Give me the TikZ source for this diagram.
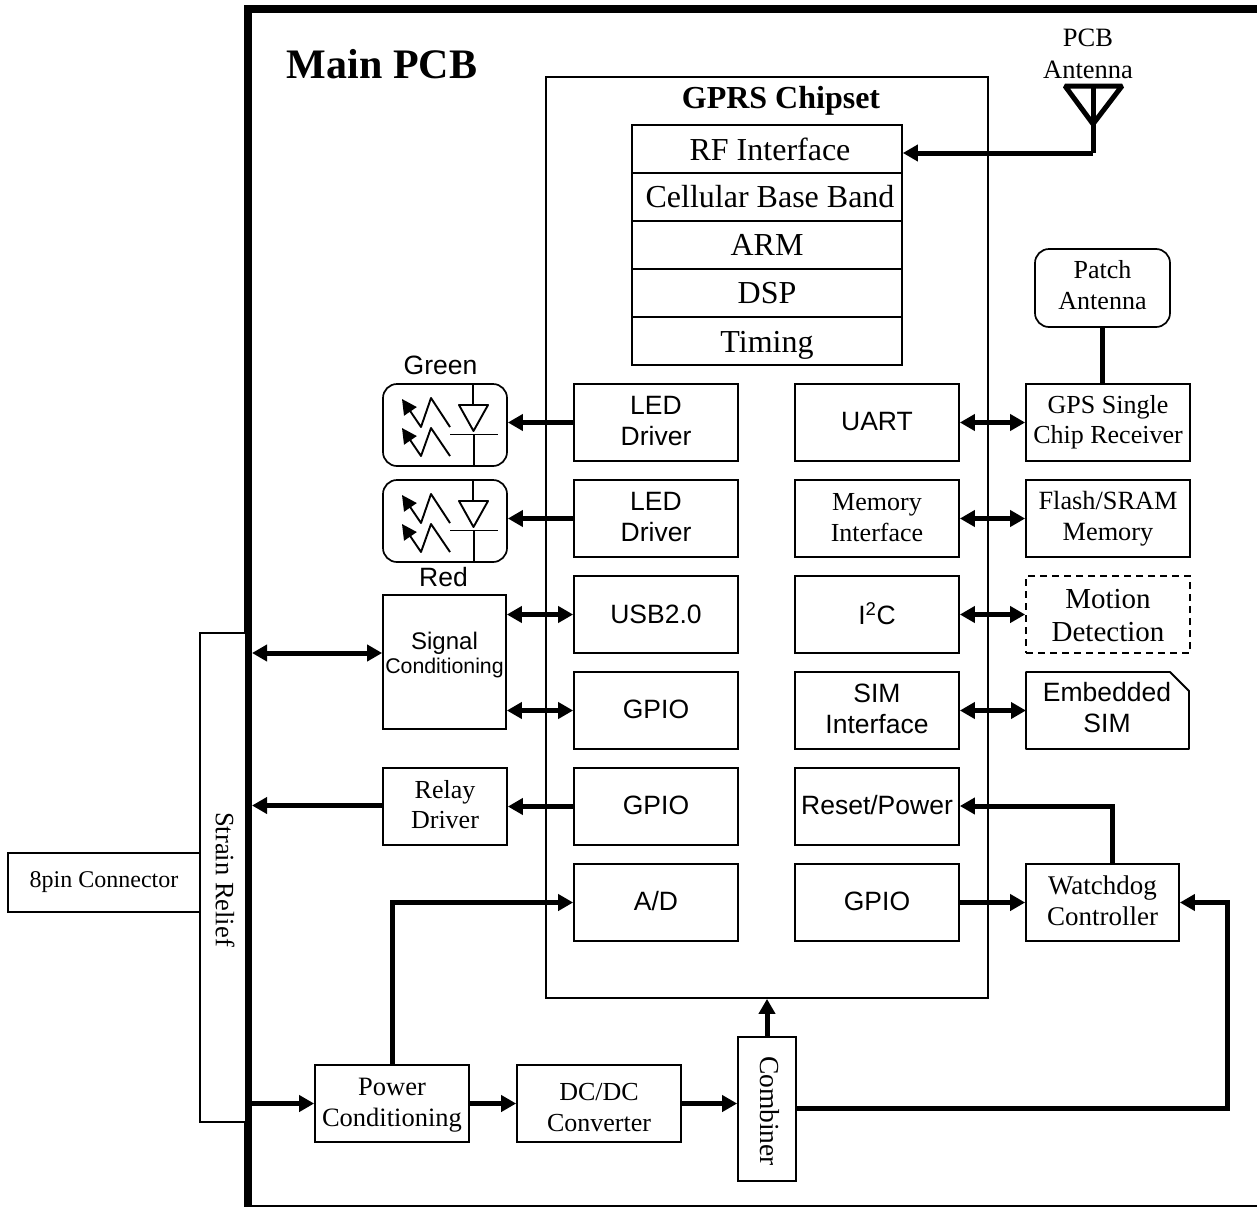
\documentclass[tikz,border=0pt]{standalone}
\usepackage{fontspec}
\setmainfont{Liberation Serif}
\newfontfamily\arialf{Liberation Sans}
\usetikzlibrary{arrows.meta,calc}
\newcommand{\fsz}[1]{\fontsize{#1pt}{1.16\dimexpr#1pt\relax}\selectfont}
\tikzset{
  x=1pt,y=-1pt,
  blk/.style={draw=black,line width=1.7pt,fill=white,inner sep=0pt},
  stk/.style={blk,minimum width=270pt,minimum height=48pt},
  wire/.style={line width=5pt,line cap=butt},
  one/.style={wire,-{Triangle[length=15pt,width=16pt]}},
  two/.style={wire,{Triangle[length=15pt,width=16pt]}-{Triangle[length=15pt,width=16pt]}},
  chip/.style={blk,minimum width=164pt,minimum height=77pt},
  lbl/.style={inner sep=0pt,align=center},
  ar/.style={font=\arialf\fsz{#1}},
  se/.style={font=\fsz{#1}},
  thin line/.style={line width=1.9pt,line join=round}
}
% #1 box style, #2 name, #3 centre, #4 text options, #5 text
\newcommand{\bx}[5]{%
  \node[#1] (#2) at (#3) {};
  \node[lbl,#4] (#2t) at (#2) {#5};}
\newcommand{\ledsym}[1]{%
  \begin{scope}[shift={(0,#1)},thin line]
    \draw (473,384) -- (473,405);
    \draw (459,405) -- (488,405) -- (473.5,431) -- cycle;
    \draw (450,434.5) -- (498,434.5);
    \draw (474,434.5) -- (474,466);
    \draw[-{Triangle[length=15pt,width=15pt]}] (450,427) -- (431,398) -- (421,427) -- (402,399);
    \draw[-{Triangle[length=15pt,width=15pt]}] (450,456) -- (431,428) -- (421,456) -- (402,428);
  \end{scope}}
\begin{document}
\begin{tikzpicture}
\useasboundingbox (0,0) rectangle (1257,1207);
% board outline
\coordinate (tl) at (248,9);
\coordinate (tr) at (1257,9);
\coordinate (bl) at (248,1206);
\coordinate (br) at (1257,1206);
\draw[line width=1.7pt] (bl) -- (br);
\draw[line width=8pt] (tr) -- (tl) -- ($(bl)+(0,1)$);
\node[lbl,font=\bfseries\fsz{42}] (mainpcb) at (382,64) {Main PCB};
% chipset
\node[blk,minimum width=442pt,minimum height=921pt] (chipset) at (767,537.5) {};
\node[lbl,font=\bfseries\fsz{32}] (gprs) at (781,101) {GPRS Chipset};
\bx{stk}{rf}{767,149}{se=32,xshift=3pt}{RF Interface}
\bx{stk}{cbb}{767,197}{se=32,xshift=3pt}{Cellular Base Band}
\bx{stk}{arm}{767,245}{se=32}{ARM}
\bx{stk}{dsp}{767,293}{se=32}{DSP}
\bx{stk}{timing}{767,341}{se=32,yshift=-4pt}{Timing}
% chipset left column
\bx{chip}{led1}{656,422.5}{ar=26.5,yshift=1.5pt}{LED\\Driver}
\bx{chip}{led2}{656,518.5}{ar=26.5,yshift=1.5pt}{LED\\Driver}
\bx{chip}{usb}{656,614.5}{ar=26.5}{USB2.0}
\bx{chip}{gpio1}{656,710.5}{ar=26.5,yshift=1.5pt}{GPIO}
\bx{chip}{gpio2}{656,806.5}{ar=26.5,yshift=1pt}{GPIO}
\bx{chip}{ad}{656,902.5}{ar=26.5,yshift=1pt}{A/D}
% chipset right column
\bx{chip}{uart}{877,422.5}{ar=26.5,yshift=1pt}{UART}
\bx{chip}{memif}{877,518.5}{se=26,yshift=1pt}{Memory\\[1pt]Interface}
\bx{chip}{i2c}{877,614.5}{ar=26.5,yshift=1pt}{I\textsuperscript{2}C}
\bx{chip}{simif}{877,710.5}{ar=26.5,yshift=1.5pt}{SIM\\Interface}
\bx{chip}{reset}{877,806.5}{ar=26.5,yshift=1pt}{Reset/Power}
\bx{chip}{gpio3}{877,902.5}{ar=26.5,yshift=1pt}{GPIO}
% right peripherals
\bx{chip}{gps}{1108,422.5}{se=26}{GPS Single\\Chip Receiver}
\bx{chip}{flash}{1108,518.5}{se=26.3}{Flash/SRAM\\Memory}
\bx{chip,dashed,dash pattern=on 7pt off 5pt}{motion}{1108,614.5}{se=29,yshift=-1pt}{Motion\\Detection}
\coordinate (simA) at (1026,672);
\coordinate (simB) at (1170,672);
\coordinate (simC) at (1189,691);
\coordinate (simD) at (1189,749);
\coordinate (simE) at (1026,749);
\draw[thin line] (simA) -- (simB) -- (simC) -- (simD) -- (simE) -- cycle;
\node[lbl,ar=26.5] (sim) at (1107,707.5) {Embedded\\SIM};
\bx{blk,rounded corners=14pt,minimum width=135pt,minimum height=78pt}{patch}{1102.5,288}{se=26,yshift=3pt}{Patch\\[1pt]Antenna}
\bx{blk,minimum width=153pt,minimum height=77pt}{watch}{1102.5,902.5}{se=27,yshift=2pt}{Watchdog\\Controller}
% antenna
\coordinate (antL) at (1065,86);
\coordinate (antR) at (1122,86);
\coordinate (antT) at (1093,124);
\coordinate (antB) at (1093,153);
\draw[line width=5pt,line join=bevel] (antL) -- (antR) -- (antT) -- cycle;
\draw[line width=5pt] (1093,86) -- (antT);
\node[lbl,se=26.5] (pcbant) at (1088,54) {PCB\\[1pt]Antenna};
% left blocks
\node[blk,rounded corners=14pt,minimum width=124pt,minimum height=82pt] (green) at (445,425) {};
\node[blk,rounded corners=14pt,minimum width=124pt,minimum height=82pt] (red) at (445,521) {};
\ledsym{0}
\ledsym{96}
\node[lbl,ar=26.5] (greenl) at (440.5,365) {Green};
\node[lbl,ar=26.5] (redl) at (443.5,577) {Red};
\bx{blk,minimum width=123pt,minimum height=134pt}{sig}{444.5,662}{ar=24,yshift=7pt}{Signal\\[-3pt]{\fsz{21.3}Conditioning}}
\bx{blk,minimum width=124pt,minimum height=77pt}{relay}{445,806.5}{se=26,yshift=2pt}{Relay\\Driver}
\node[blk,minimum width=46pt,minimum height=489pt] (strain) at (223,877.5) {};
\node[lbl,rotate=-90,se=26.5] (strainl) at (225,879.5) {Strain Relief};
\bx{blk,minimum width=192pt,minimum height=59pt}{pin}{104,882.5}{se=24}{8pin Connector}
% power chain
\bx{blk,minimum width=154pt,minimum height=77pt}{pwr}{392,1103.5}{se=26.5,yshift=-2pt}{Power\\Conditioning}
\bx{chip}{dcdc}{599,1103.5}{se=26,yshift=-4pt}{DC/DC\\Converter}
\node[blk,minimum width=58pt,minimum height=144pt] (comb) at (767,1109) {};
\node[lbl,rotate=-90,se=27.5] (combl) at (770,1111) {Combiner};
% connectors
\coordinate (sigin) at (252,653);
\coordinate (relayout) at (252,805.5);
\coordinate (pwrin) at (252,1103.5);
\draw[one] (antB) -- (antB -| rf.east);
\draw[wire] (antT) -- (antB);
\draw[one] (led1.west) -- (led1.west -| green.east);
\draw[one] (led2.west) -- (led2.west -| red.east);
\draw[two] (sig.east |- usb.west) -- (usb.west);
\draw[two] (sig.east |- gpio1.west) -- (gpio1.west);
\draw[one] (gpio2.west) -- (relay.east);
\draw[one] (relay.west |- relayout) -- (relayout);
\draw[two] (sigin) -- (sigin -| sig.west);
\draw[two] (uart.east) -- (gps.west);
\draw[two] (memif.east) -- (flash.west);
\draw[two] (i2c.east) -- (motion.west);
\draw[two] (simif.east) -- (simif.east -| simA);
\draw[wire] (patch.south) -- (patch.south |- gps.north);
\draw[one] (gpio3.east) -- (watch.west);
\draw[one] (watch.north -| 1112,0) -- (1112,806) -- (reset.east |- 0,806);
\draw[one] (pwrin) -- (pwr.west);
\draw[one] (pwr.east) -- (dcdc.west);
\draw[one] (dcdc.east) -- (dcdc.east -| comb.west);
\draw[one] (comb.north) -- (chipset.south);
\draw[one] (pwr.north) -- (392,902.5) -- (ad.west);
\draw[one] (comb.east |- 0,1108) -- (1227,1108) -- (1227,902.5) -- (watch.east);
\end{tikzpicture}
\end{document}
